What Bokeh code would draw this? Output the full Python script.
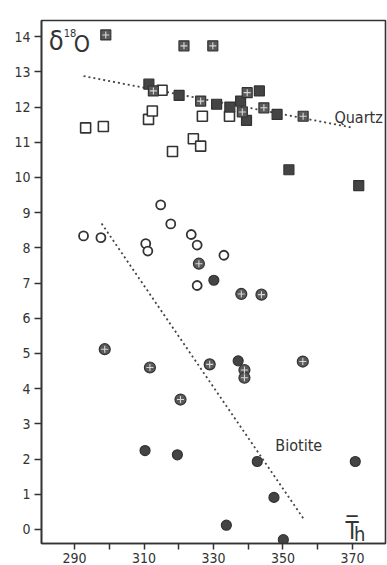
from bokeh.plotting import figure
from bokeh.models import FixedTicker, Range1d
from bokeh.core.properties import value
from bokeh.embed import file_html
from bokeh.resources import INLINE

# ---- data ----
# Quartz
q_open_x = [293.2, 298.3, 311.3, 312.4, 315.2, 318.2, 324.2, 326.3, 326.8, 334.6]
q_open_y = [11.41, 11.45, 11.65, 11.89, 12.48, 10.74, 11.10, 10.89, 11.74, 11.74]
q_fill_x = [311.4, 320.1, 330.9, 334.7, 337.8, 343.2, 339.5, 348.3, 351.7, 371.8]
q_fill_y = [12.65, 12.33, 12.08, 12.00, 12.17, 12.46, 11.62, 11.79, 10.22, 9.77]
q_cross_x = [299.0, 321.5, 329.8, 312.7, 326.3, 339.7, 338.3, 344.5, 355.8]
q_cross_y = [14.05, 13.74, 13.74, 12.46, 12.17, 12.41, 11.86, 11.98, 11.74]
# Biotite
b_open_x = [292.6, 297.6, 314.8, 317.7, 310.5, 311.1, 323.6, 325.3, 325.3, 333.0]
b_open_y = [8.34, 8.29, 9.22, 8.68, 8.12, 7.91, 8.38, 8.08, 6.93, 7.79]
b_cross_x = [325.8, 338.0, 343.8, 298.7, 311.7, 320.5, 328.9, 355.7, 338.9, 338.9]
b_cross_y = [7.55, 6.69, 6.67, 5.12, 4.60, 3.69, 4.69, 4.77, 4.53, 4.31]
b_fill_x = [330.1, 337.1, 310.3, 319.6, 342.6, 370.8, 347.4, 350.1, 333.7]
b_fill_y = [7.08, 4.79, 2.24, 2.12, 1.93, 1.93, 0.91, -0.29, 0.12]
# trend lines
q_trend_x = [292.6, 370.3]
q_trend_y = [12.88, 11.41]
b_trend_x = [297.8, 356.0]
b_trend_y = [8.69, 0.29]
# ticks
x_ticks = [290, 300, 310, 320, 330, 340, 350, 360, 370]
x_labels = ["290", "", "310", "", "330", "", "350", "", "370"]
y_ticks = list(range(0, 15))
# text labels
series_names = ["Quartz", "Biotite"]
series_lx = [364.8, 347.8]
series_ly = [11.69, 2.39]

FONT = "DejaVu Sans Condensed"
INK = "#333333"

p = figure(width=387, height=565, x_range=Range1d(280.5, 379.5),
           y_range=Range1d(-0.4, 14.46), output_backend="svg",
           toolbar_location=None, min_border_left=41, min_border_right=2,
           min_border_top=20, min_border_bottom=0)
p.grid.visible = False
p.outline_line_color = INK
p.outline_line_width = 1.6
p.background_fill_color = "white"
p.border_fill_color = "white"


def style(ax, ticks, labels):
    ax.ticker = FixedTicker(ticks=ticks)
    ax.major_label_overrides = {t: l for t, l in zip(ticks, labels)}
    ax.axis_line_color = INK
    ax.axis_line_width = 1.6
    ax.major_tick_line_color = INK
    ax.major_tick_line_width = 1.5
    ax.major_tick_out = 7
    ax.major_tick_in = 0
    ax.minor_tick_out = 0
    ax.minor_tick_in = 0
    ax.major_label_text_font = FONT
    ax.major_label_text_font_size = "14px"
    ax.major_label_text_color = INK
    ax.major_label_standoff = 4


bottom = p.below[0]
style(bottom, x_ticks, x_labels)
bottom.major_tick_out = 6
bottom.major_label_standoff = 3
style(p.yaxis[0], y_ticks, [str(t) for t in y_ticks])

# trend lines
p.line(q_trend_x, q_trend_y, line_color="#444444", line_width=1.8, line_dash="2 3")
p.line(b_trend_x, b_trend_y, line_color="#444444", line_width=1.8, line_dash="2 3")

# quartz
p.scatter(q_open_x, q_open_y, marker="square", size=10, fill_color="white",
          line_color=INK, line_width=1.6)
p.scatter(q_fill_x, q_fill_y, marker="square", size=10, fill_color="#444444",
          line_color=INK, line_width=1.2)
p.scatter(q_cross_x, q_cross_y, marker="square", size=10, fill_color="#5a5a5a",
          line_color=INK, line_width=1.2)
p.scatter(q_cross_x, q_cross_y, marker="cross", size=7, line_color="#d8d8d8",
          line_width=1.1)

# biotite
p.scatter(b_open_x, b_open_y, marker="circle", size=9, fill_color="white",
          line_color=INK, line_width=1.8)
p.scatter(b_fill_x, b_fill_y, marker="circle", size=10, fill_color="#444444",
          line_color=INK, line_width=1.2)
p.scatter(b_cross_x, b_cross_y, marker="circle", size=11, fill_color="#5a5a5a",
          line_color=INK, line_width=1.2)
p.scatter(b_cross_x, b_cross_y, marker="cross", size=7, line_color="#d8d8d8",
          line_width=1.1)

# labels (vertically centred on the glyphs)
p.text(series_lx, series_ly, text=series_names, text_font=value(FONT),
       text_font_size="16px", text_color=INK, text_baseline="middle",
       text_align="left")
p.text([282.6], [13.90], text=["δ"], text_font=value(FONT),
       text_font_size="27px", text_color=INK, text_baseline="middle")
p.text([286.9], [14.10], text=["18"], text_font=value(FONT),
       text_font_size="11px", text_color=INK, text_baseline="middle")
p.text([289.8], [13.79], text=["O"], text_font=value(FONT),
       text_font_size="23px", text_color=INK, text_baseline="middle")
p.text([368.0], [-0.04], text=["T\u0305"], text_font=value(FONT),
       text_font_size="24px", text_color=INK, text_baseline="middle")
p.text([370.4], [-0.14], text=["h"], text_font=value(FONT),
       text_font_size="20px", text_color=INK, text_baseline="middle")

open("out.html", "w").write(file_html(p, INLINE))
